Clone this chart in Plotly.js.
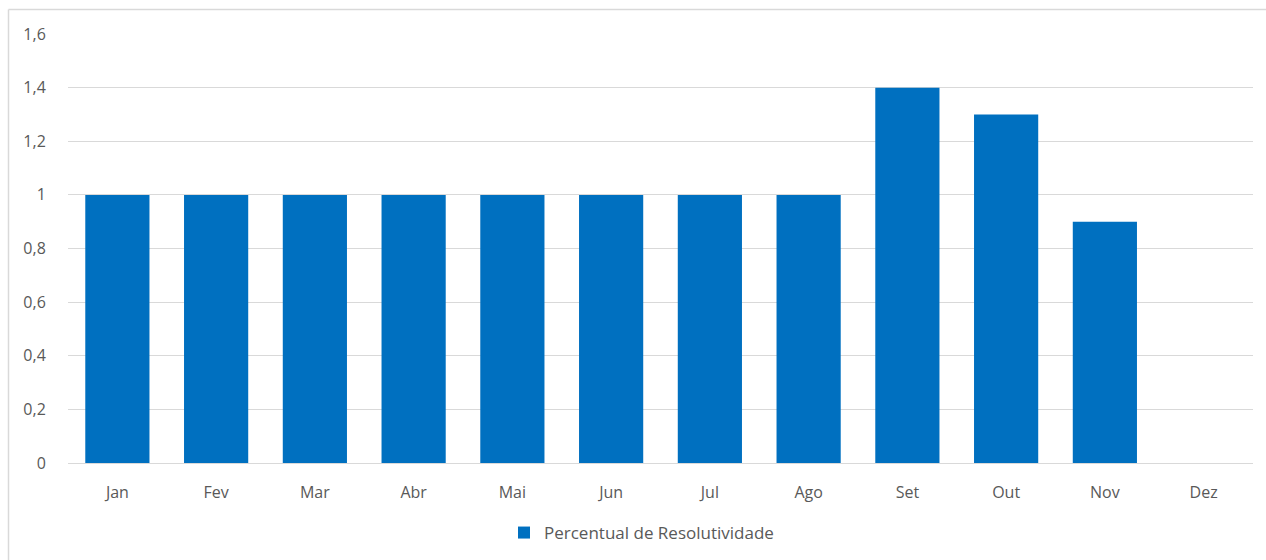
<!DOCTYPE html>
<html>
<head>
<meta charset="utf-8">
<script src="https://cdn.plot.ly/plotly-3.0.1.min.js"></script>
<style>
html,body{margin:0;padding:0;background:#fff;}
#chart{width:1266px;height:560px;}
</style>
</head>
<body>
<div id="chart"></div>
<script>
const months = ["Jan","Fev","Mar","Abr","Mai","Jun","Jul","Ago","Set","Out","Nov","Dez"];
const values = [1, 1, 1, 1, 1, 1, 1, 1, 1.4, 1.3, 0.9, 0];
const seriesName = "Percentual de Resolutividade";
const yTickVals = [0, 0.2, 0.4, 0.6, 0.8, 1, 1.2, 1.4, 1.6];
const yTickText = ["0", "0,2", "0,4", "0,6", "0,8", "1", "1,2", "1,4", "1,6"];

const fontFam = "'Open Sans', 'Noto Sans', sans-serif";
const W = 1266, H = 560, L = 68, R = 13, T = 34, B = 97;
const pw = W - L - R, ph = H - T - B;
const bx = (px) => (px - L) / pw;
const by = (py) => (H - B - py) / ph;

Plotly.newPlot("chart", [{
  type: "bar",
  x: months,
  y: values,
  name: seriesName,
  marker: {color: "#0070C0"},
  showlegend: true
}], {
  width: W, height: H,
  margin: {l: L, r: R, t: T, b: B, autoexpand: false},
  paper_bgcolor: "#fff",
  plot_bgcolor: "#fff",
  bargap: 0.35,
  font: {family: fontFam, color: "#595959", size: 16},
  xaxis: {
    type: "category",
    automargin: false,
    showgrid: false,
    showline: true,
    linecolor: "#d9d9d9",
    linewidth: 1,
    ticks: "outside",
    ticklen: 15,
    tickcolor: "rgba(0,0,0,0)",
    tickfont: {size: 16, color: "#595959"},
    zeroline: false
  },
  yaxis: {
    automargin: false,
    range: [0, 1.6],
    tickvals: yTickVals,
    ticktext: yTickText,
    showgrid: true,
    gridcolor: "#d9d9d9",
    gridwidth: 1,
    zeroline: false,
    showline: false,
    ticks: "outside",
    ticklen: 18,
    tickcolor: "rgba(0,0,0,0)",
    tickfont: {size: 16, color: "#595959"}
  },
  legend: {
    orientation: "h",
    x: bx(641.5), xanchor: "center",
    y: by(533), yanchor: "middle",
    font: {size: 17, color: "#595959"},
    itemwidth: 30
  },
  shapes: [
    {type: "line", xref: "paper", yref: "paper", x0: bx(8.5), x1: bx(8.5), y0: by(9.5), y1: by(600), line: {color: "#d9d9d9", width: 1.5}},
    {type: "line", xref: "paper", yref: "paper", x0: bx(8.5), x1: bx(1300), y0: by(9.5), y1: by(9.5), line: {color: "#d9d9d9", width: 1.5}}
  ]
}, {displayModeBar: false, staticPlot: true});
</script>
</body>
</html>
